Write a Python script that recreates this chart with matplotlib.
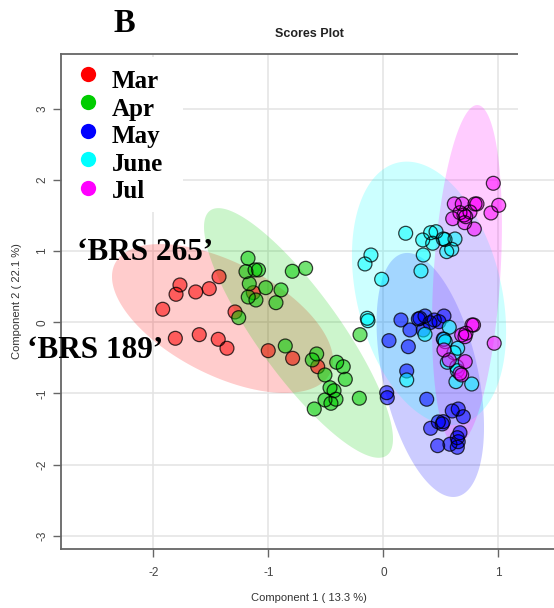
import numpy as np
import matplotlib
matplotlib.use("Agg")
import matplotlib.pyplot as plt
from matplotlib.patches import Polygon, Rectangle

plt.rcParams["axes.unicode_minus"] = False

# ---- data (component scores) ----
months = ["Mar", "Apr", "May", "June", "Jul"]
colors = ["#FF0000", "#00CD00", "#0000FF", "#00FFFF", "#FF00FF"]

mar_x = [-1.770, -1.804, -1.633, -1.515, -1.430, -1.920, -1.810, -1.602,
         -1.437, -1.361, -1.291, -1.132, -1.002, -0.790, -0.572]
mar_y = [0.524, 0.393, 0.426, 0.472, 0.640, 0.183, -0.225, -0.174,
         -0.239, -0.365, 0.145, 0.416, -0.399, -0.506, -0.624]

apr_x = [-1.178, -1.196, -1.117, -1.087, -1.167, -1.024, -0.891, -1.176,
         -1.109, -0.935, -0.793, -0.677, -1.259, -0.854, -0.581, -0.619,
         -0.509, -0.407, -0.350, -0.332, -0.465, -0.430, -0.413, -0.509,
         -0.457, -0.602, -0.210, -0.204]
apr_y = [0.899, 0.711, 0.735, 0.735, 0.542, 0.486, 0.454, 0.355,
         0.313, 0.275, 0.716, 0.758, 0.065, -0.333, -0.445, -0.529,
         -0.740, -0.562, -0.624, -0.801, -0.919, -0.961, -1.081, -1.091,
         -1.138, -1.218, -1.067, -0.174]

may_x = [0.152, 0.230, 0.303, 0.317, 0.361, 0.404, 0.442, 0.483, 0.526,
         0.346, 0.048, 0.216, 0.202, 0.028, 0.033, 0.376, 0.520, 0.598,
         0.650, 0.694, 0.477, 0.520, 0.511, 0.410, 0.665, 0.642, 0.650,
         0.471, 0.578, 0.642]
may_y = [0.032, -0.108, 0.046, 0.056, 0.088, -0.006, 0.032, 0.008, 0.088,
         -0.108, -0.258, -0.343, -0.684, -0.989, -1.059, -1.081, -0.235, -1.246,
         -1.218, -1.326, -1.400, -1.396, -1.428, -1.489, -1.551, -1.621, -1.677,
         -1.733, -1.713, -1.756]

jun_x = [0.193, 0.341, 0.410, 0.457, 0.428, 0.520, 0.535, 0.622, 0.550,
         0.593, 0.346, -0.109, -0.161, 0.326, -0.016, -0.141, -0.135, 0.572,
         0.361, 0.526, 0.537, 0.645, 0.613, 0.555, 0.637, 0.642, 0.630,
         0.767, 0.202]
jun_y = [1.250, 1.156, 1.258, 1.272, 1.110, 1.170, 1.163, 1.170, 0.992,
         1.025, 0.945, 0.945, 0.819, 0.721, 0.604, 0.056, 0.022, -0.070,
         -0.169, -0.239, -0.272, -0.365, -0.427, -0.562, -0.624, -0.680, -0.834,
         -0.867, -0.810]

jul_x = [0.955, 0.616, 0.685, 0.796, 0.813, 1.002, 0.665, 0.752, 0.700,
         0.715, 0.602, 0.706, 0.935, 0.790, 0.770, 0.783, 0.680, 0.717,
         0.709, 0.963, 0.526, 0.572, 0.711, 0.665, 0.680]
jul_y = [1.952, 1.662, 1.662, 1.662, 1.662, 1.643, 1.539, 1.549, 1.507,
         1.483, 1.455, 1.399, 1.535, 1.310, -0.038, -0.038, -0.178, -0.154,
         -0.202, -0.295, -0.389, -0.529, -0.553, -0.716, -0.740]

# 95% regions: centre (data), semi-axes (in x units, on screen), tilt (deg)
ell_cx = [-1.400, -0.739, 0.407, 0.396, 0.726]
ell_cy = [0.053, -0.150, -0.740, 0.406, 0.664]
ell_a = [1.050, 1.313, 1.083, 1.169, 1.481]
ell_b = [0.490, 0.360, 0.414, 0.629, 0.290]
ell_ang = [-27.1, -54.2, -77.5, -76.4, 86.4]

xs = [mar_x, apr_x, may_x, jun_x, jul_x]
ys = [mar_y, apr_y, may_y, jun_y, jul_y]

W, H = 554, 608
serif = "Liberation Serif"
sans = "Liberation Sans"


def fx(px):
    return px / W


def fy(py):
    return 1 - py / H


def ellipse_xy(cx, cy, a, b, ang, y_per_x):
    t = np.linspace(0, 2 * np.pi, 240)
    th = np.deg2rad(ang)
    u = a * np.cos(t) * np.cos(th) - b * np.sin(t) * np.sin(th)
    w = a * np.cos(t) * np.sin(th) + b * np.sin(t) * np.cos(th)
    return cx + u, cy + w * y_per_x


fig = plt.figure(figsize=(W / 100, H / 100), dpi=100)
ax = fig.add_axes([fx(60.7), fy(548.7), fx(560) - fx(60.7), fy(53.7) - fy(548.7)])
ax.set_xlim(-2.807, 1.535)
ax.set_ylim(-3.18, 3.772)

ax.set_xticks([-2, -1, 0, 1])
ax.set_yticks([-3, -2, -1, 0, 1, 2, 3])
ax.set_yticklabels(["-3", "-2", "-1", "0", "1", "2", "3"], rotation=90, va="center")
ax.grid(True, color="#e3e3e3", linewidth=1.1)
ax.set_axisbelow(True)
for side in ["left", "bottom", "top"]:
    ax.spines[side].set_color("#666666")
    ax.spines[side].set_linewidth(1.3)
ax.spines["right"].set_visible(False)
ax.tick_params(axis="both", direction="out", length=6, width=1, color="#666666",
               labelcolor="#444444", labelsize=8.5)
ax.tick_params(axis="x", pad=7)
ax.tick_params(axis="y", pad=3)
for lbl in ax.get_xticklabels() + ax.get_yticklabels():
    lbl.set_fontfamily(sans)

# screen aspect so the ellipses keep their shape
sx = ax.get_position().width * W / (1.535 + 2.807)
sy = ax.get_position().height * H / (3.772 + 3.18)
y_per_x = sx / sy

for i in range(len(months)):
    ex, ey = ellipse_xy(ell_cx[i], ell_cy[i], ell_a[i], ell_b[i], ell_ang[i], y_per_x)
    ax.add_patch(Polygon(np.column_stack([ex, ey]), closed=True, facecolor=colors[i],
                         alpha=0.2, edgecolor="none", zorder=2))

for i in range(len(months)):
    ax.scatter(xs[i], ys[i], s=100, facecolor=colors[i], alpha=0.55, edgecolor="none", zorder=3)
    ax.scatter(xs[i], ys[i], s=100, facecolor="none", edgecolor="black", linewidth=0.9,
               alpha=0.75, zorder=3)

# white legend block
fig.patches.append(Rectangle((fx(61.5), fy(212)), fx(183) - fx(61.5), fy(57) - fy(212),
                             transform=fig.transFigure, facecolor="white", edgecolor="none",
                             zorder=1))
# blank corner top right
fig.patches.append(Rectangle((fx(517.5), fy(150)), 1 - fx(517.5), fy(0) - fy(150),
                             transform=fig.transFigure, facecolor="white", edgecolor="none",
                             zorder=1))

for i, m in enumerate(months):
    fig.lines.append(plt.Line2D([fx(87.7)], [fy(73.5 + 28.5 * i)], transform=fig.transFigure,
                                marker="o", markersize=11, color=colors[i], markeredgewidth=0,
                                linestyle="none", zorder=3))
    fig.text(fx(112), fy(88 + 27.6 * i), m, fontsize=18, fontweight="bold", family=serif,
             ha="left", va="baseline", zorder=3)

fig.text(fx(114), fy(31.7), "B", fontsize=23.5, fontweight="bold", family=serif,
         ha="left", va="baseline")
fig.text(fx(77), fy(260), "\u2018BRS 265\u2019", fontsize=22.5, fontweight="bold", family=serif,
         ha="left", va="baseline", zorder=4)
fig.text(fx(27), fy(358), "\u2018BRS 189\u2019", fontsize=22.5, fontweight="bold", family=serif,
         ha="left", va="baseline", zorder=4)

fig.text(fx(309), fy(34), "Scores Plot", fontsize=9, fontweight="bold", family=sans,
         ha="center", va="center", color="#222222")
fig.text(fx(309), fy(597.7), "Component 1 ( 13.3 %)", fontsize=8, family=sans,
         ha="center", va="center", color="#333333")
fig.text(fx(17), fy(301), "Component 2 ( 22.1 %)", fontsize=8, family=sans, rotation=90,
         ha="center", va="center", color="#333333")

fig.savefig("out.png", dpi=100)
